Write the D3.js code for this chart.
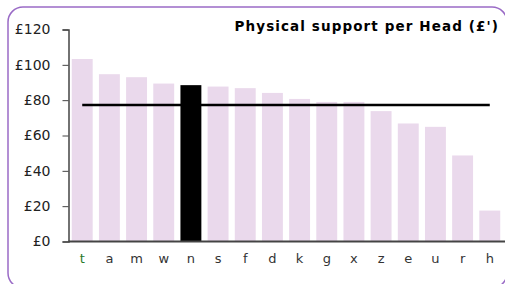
<!DOCTYPE html>
<html><head><meta charset="utf-8">
<script src="https://cdn.jsdelivr.net/npm/d3@7"></script>
<style>body{margin:0;background:#fff}svg{display:block}</style>
</head><body>
<svg id="c" width="505" height="284"></svg>
<script>
const categories = ["t","a","m","w","n","s","f","d","k","g","x","z","e","u","r","h"];
const values = [103.3,94.7,93.0,89.4,88.5,87.7,86.8,84.1,80.7,79.0,79.0,73.8,66.8,64.9,48.7,17.5];
const highlight = ["n"];
const averageValue = [77.2];
const yTicks = [0,20,40,60,80,100,120];
const title = "Physical support per Head (£')";

const svg = d3.select("#c");
svg.append("rect").attr("x",8).attr("y",7).attr("width",499).attr("height",281)
  .attr("rx",15).attr("fill","none").attr("stroke","#9a6bc6").attr("stroke-width",1.5);

const x0 = 68.5, x1 = 503.5, yBase = 241.5, yTop = 29.5;
const x = d3.scaleBand().domain(categories).range([x0, x1]).paddingInner(0.23).paddingOuter(0.12);
const y = d3.scaleLinear().domain([0,120]).range([yBase, yTop]);

svg.append("g").selectAll("rect").data(categories).join("rect")
  .attr("x", d => x(d)).attr("width", x.bandwidth())
  .attr("y", (d,i) => y(values[i])).attr("height", (d,i) => yBase - y(values[i]))
  .attr("fill", d => highlight.includes(d) ? "#000" : "#ead9ec");

const yAxis = svg.append("g").attr("transform",`translate(${x0},0)`)
  .call(d3.axisLeft(y).tickValues(yTicks).tickFormat(d => "£" + d).tickSize(6).tickPadding(12));
yAxis.select(".domain").attr("stroke","#444").attr("stroke-width",1.5);
yAxis.selectAll(".tick line").attr("stroke","#444");
yAxis.selectAll("text").attr("font-family","DejaVu Sans, Verdana, sans-serif").attr("font-size",14).attr("fill","#222");

const xAxis = svg.append("g").attr("transform",`translate(0,${yBase})`)
  .call(d3.axisBottom(x).tickSize(0).tickPadding(12));
xAxis.select(".domain").attr("stroke","#444").attr("stroke-width",2).attr("d",`M${x0},0H505`);
xAxis.selectAll("text").attr("font-family","DejaVu Sans, Verdana, sans-serif").attr("font-size",13)
  .attr("fill", d => d === "t" ? "#2a7a2a" : "#333");

const c0 = x(categories[0]) + x.bandwidth()/2, c1 = x(categories[categories.length-1]) + x.bandwidth()/2;
svg.append("line").attr("x1", c0).attr("x2", c1).attr("y1", y(averageValue[0])).attr("y2", y(averageValue[0]))
  .attr("stroke","#000").attr("stroke-width",2.5);

svg.append("text").attr("x",499).attr("y",31).attr("text-anchor","end")
  .attr("font-family","DejaVu Sans, Verdana, sans-serif").attr("font-weight","bold").attr("font-size",13.5)
  .attr("letter-spacing",1.1)
  .attr("fill","#000").text(title);
</script>
</body></html>
